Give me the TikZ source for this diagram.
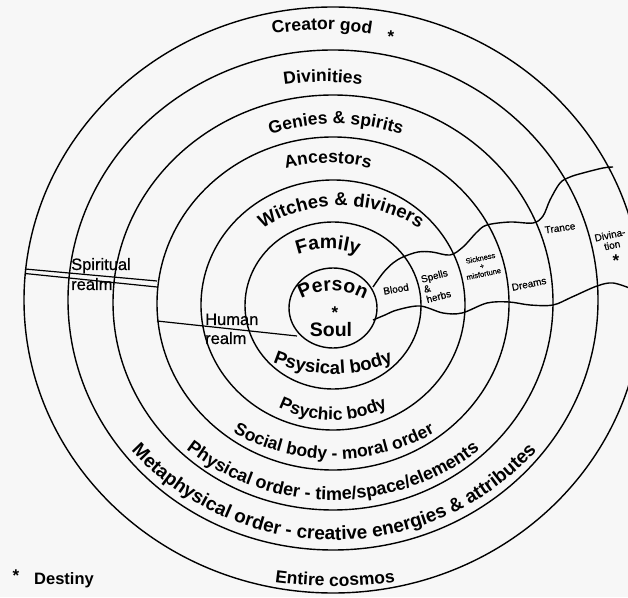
\documentclass[tikz,border=0pt]{standalone}
\usepackage{fontspec}
\setmainfont{Liberation Sans}
\newfontfamily\medfont{Liberation Sans}[FakeBold=0.6]
\usetikzlibrary{decorations.text}
\newcommand\lblA{\bfseries\fontsize{17.5}{20}\selectfont}
\newcommand\lblB{\bfseries\fontsize{18.5}{21}\selectfont}
\newcommand\lblC{\bfseries\fontsize{18}{21}\selectfont}
\newcommand\lblD{\bfseries\fontsize{19}{22}\selectfont}
\newcommand\lblE{\bfseries\fontsize{19.5}{22}\selectfont}
\newcommand\toptext[5]{%
  \path[decorate, decoration={text along path, text align=center, text={|#4|#5}}]
    (#1, {-(#2)-(#3)}) ++(170:#3) arc[start angle=170, end angle=10, radius=#3];}
\newcommand\bottext[5]{%
  \path[decorate, decoration={text along path, text align=center, text={|#4|#5}}]
    (#1, {-(#2)+(#3)}) ++(190:#3) arc[start angle=190, end angle=350, radius=#3];}
\begin{document}
\begin{tikzpicture}[x=1pt, y=1pt,
  ring/.style={line width=1.4pt, black},
  wave/.style={line width=1.4pt, black, smooth, tension=0.55},
  realmline/.style={line width=1.2pt, black},
  realmtext/.style={font=\medfont\fontsize{16.5}{19}\selectfont, inner sep=0pt},
  small/.style={font=\medfont\fontsize{10}{10.5}\selectfont, inner sep=0pt},
  tiny/.style={font=\medfont\fontsize{7.5}{8}\selectfont, inner sep=0pt},
  star/.style={font=\bfseries\fontsize{17}{17}\selectfont, inner sep=0pt, anchor=base}]
\useasboundingbox (0,0) rectangle (628,597);
\fill[white!97!black] (0,0) rectangle (628,597);
\begin{scope}
\clip (0,0) rectangle (628,597);
\begin{scope}[shift={(0,597)}]
  % concentric rings
  \draw[ring] (333,-308)   ellipse [x radius=44,  y radius=40];
  \draw[ring] (333,-305.5) ellipse [x radius=88,  y radius=83.5];
  \draw[ring] (333,-305)   ellipse [x radius=132, y radius=125];
  \draw[ring] (333,-303.5) ellipse [x radius=176, y radius=166.5];
  \draw[ring] (333,-302.5) ellipse [x radius=220, y radius=207.5];
  \draw[ring] (333,-300)   ellipse [x radius=265, y radius=250];
  \draw[ring] (333,-300)   ellipse [x radius=309, y radius=293];
  % wavy band
  \draw[wave] plot coordinates {(373,-287) (383,-273) (393,-263) (403,-257) (418,-252) (432,-252) (450,-255) (463,-247) (477,-232) (487,-225) (510,-222) (533,-223) (543,-216) (550,-200) (560,-183) (570,-177) (583,-173) (603,-168) (613,-167)};
  \draw[wave] plot coordinates {(373,-320) (385,-315) (397,-310) (420,-306) (443,-313) (462,-313) (487,-303) (509,-302) (530,-305) (553,-305) (572,-297) (597,-286) (613,-283) (632,-289)};
  % spiritual realm double line
  \draw[realmline] (25,-269) -- (157,-281);
  \draw[realmline] (25,-273.5) -- (157,-287);
  % human realm line
  \draw[realmline] (157,-321) -- (297,-336);
\end{scope}
\end{scope}
\begin{scope}[shift={(0,597)}]
  % top labels
  \toptext{322}{30}{300}{\lblA}{Creator god}
  \toptext{323}{82}{255}{\lblA}{Divinities}
  \toptext{336}{124}{210}{\lblA}{Genies {\&} spirits}
  \toptext{328}{163}{170}{\lblA}{Ancestors}
  \toptext{341}{206}{150}{\lblB}{Witches {\&} diviners}
  \toptext{328}{249}{90}{\lblE}{Family}
  \toptext{333}{291}{66}{\lblE}{Person}
  % bottom labels
  \bottext{333}{374}{156}{\lblB}{Psysical body}
  \bottext{333}{420}{125}{\lblA}{Psychic body}
  \bottext{334}{459}{207}{\lblA}{Social body - moral order}
  \bottext{333}{500}{240}{\lblC}{Physical order - time/space/elements}
  \bottext{334}{540}{275}{\lblD}{Metaphysical order - creative energies {\&} attributes}
  \bottext{335}{586}{450}{\lblA}{Entire cosmos}
  % straight labels
  \node[font=\lblE, inner sep=0pt, anchor=base] (soul) at (331,-337) {Soul};
  \node[realmtext, anchor=base west] (spir1) at (71,-270) {Spiritual};
  \node[realmtext, anchor=base west] (spir2) at (71,-290) {realm};
  \node[realmtext, anchor=base west] (hum1) at (205,-325) {Human};
  \node[realmtext, anchor=base west] (hum2) at (205,-344) {realm};
  \node[small, rotate=10] (blood) at (396,-289) {Blood};
  \node[small, rotate=15, align=left] (spells) at (437,-286) {Spells\\\&\\herbs};
  \node[tiny, rotate=12, align=center] (sick) at (482,-266) {Sickness\\+\\misfortune};
  \node[small, rotate=12] (dreams) at (529,-284) {Dreams};
  \node[small, rotate=8] (trance) at (560,-228) {Trance};
  \node[small, rotate=12, align=center] (divin) at (611,-240) {Divina-\\tion};
  % stars (destiny)
  \node[star] (s1) at (391,-43) {*};
  \node[star] (s2) at (335,-319) {*};
  \node[star] (s3) at (616,-267) {*};
  \node[star] (s4) at (16,-581) {*};
  \node[font=\bfseries\fontsize{16.5}{18}\selectfont, inner sep=0pt, anchor=base west] (destiny) at (34,-584) {Destiny};
\end{scope}
\end{tikzpicture}
\end{document}
